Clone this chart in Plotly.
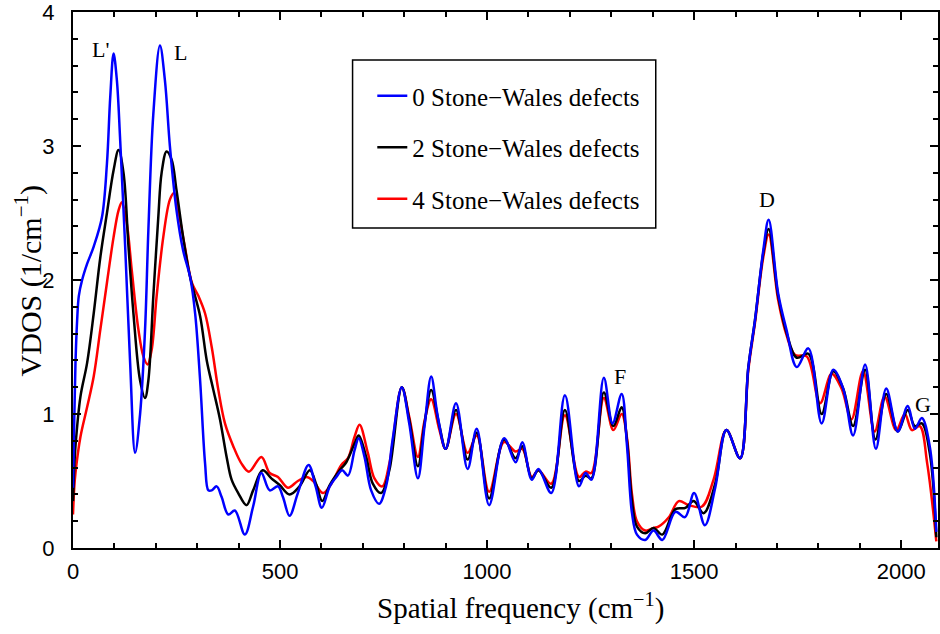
import plotly.graph_objects as go

# ---- data ----
blue_x = [0, 3, 6, 10, 14, 22, 34, 50, 70, 82,
          90, 98, 106, 114, 126, 138, 150, 162, 174, 182,
          194, 210, 222, 234, 250, 266, 283, 295, 307, 319,
          327, 335, 347, 359, 375, 391, 415, 435, 455, 475,
          495, 507, 523, 543, 569, 586, 601, 620, 636, 650,
          664, 680, 690, 704, 720, 739, 756, 772, 794, 812,
          833, 849, 865, 881, 900, 925, 953, 975, 1005, 1041,
          1069, 1085, 1108, 1124, 1155, 1188, 1222, 1238, 1252, 1282,
          1303, 1325, 1338, 1350, 1362, 1382, 1402, 1423, 1455, 1478,
          1500, 1526, 1551, 1578, 1611, 1631, 1647, 1667, 1680, 1703,
          1723, 1748, 1776, 1808, 1836, 1860, 1884, 1913, 1939, 1964,
          1992, 2016, 2033, 2050, 2069, 2085]
blue_y = [0.45, 0.95, 1.38, 1.7, 1.88, 2.0, 2.12, 2.25, 2.47, 2.87,
          3.37, 3.69, 3.49, 3.04, 2.25, 1.38, 0.71, 1.0, 1.63, 2.37,
          3.24, 3.75, 3.49, 3.0, 2.52, 2.22, 2.02, 1.75, 1.25, 0.63,
          0.43, 0.43, 0.46, 0.38, 0.25, 0.28, 0.10, 0.31, 0.56, 0.43,
          0.46, 0.38, 0.24, 0.41, 0.62, 0.46, 0.30, 0.46, 0.53, 0.58,
          0.54, 0.73, 0.82, 0.68, 0.43, 0.33, 0.46, 0.81, 1.20, 0.93,
          0.52, 0.91, 1.28, 0.98, 0.74, 1.08, 0.59, 0.89, 0.32, 0.82,
          0.64, 0.79, 0.51, 0.59, 0.41, 1.14, 0.46, 0.56, 0.51, 1.27,
          0.93, 1.15, 0.76, 0.26, 0.10, 0.06, 0.13, 0.06, 0.27, 0.23,
          0.41, 0.17, 0.45, 0.88, 0.67, 1.35, 1.70, 2.22, 2.45, 1.90,
          1.63, 1.35, 1.49, 0.93, 1.33, 1.19, 0.84, 1.37, 0.74, 1.19,
          0.87, 1.06, 0.89, 0.97, 0.76, 0.12]

black_x = [0, 3, 6, 18, 34, 50, 66, 82, 98, 110,
           122, 134, 146, 162, 174, 182, 194, 206, 214, 226,
           238, 250, 266, 283, 307, 323, 339, 355, 371, 383,
           399, 419, 435, 458, 479, 499, 523, 547, 572, 588,
           602, 620, 644, 660, 680, 690, 708, 724, 744, 764,
           794, 812, 833, 849, 865, 885, 900, 925, 953, 975,
           1005, 1041, 1069, 1085, 1108, 1124, 1155, 1188, 1222, 1238,
           1252, 1282, 1305, 1325, 1338, 1350, 1362, 1382, 1402, 1423,
           1455, 1479, 1499, 1523, 1551, 1578, 1611, 1631, 1647, 1667,
           1680, 1703, 1723, 1748, 1776, 1808, 1836, 1860, 1884, 1913,
           1938, 1964, 1992, 2016, 2033, 2050, 2069, 2085]
black_y = [0.35, 0.6, 0.76, 1.13, 1.38, 1.75, 2.17, 2.5, 2.82, 2.97,
           2.8, 2.25, 1.75, 1.25, 1.12, 1.25, 1.88, 2.47, 2.8, 2.96,
           2.9, 2.67, 2.32, 2.02, 1.73, 1.40, 1.18, 0.96, 0.68, 0.51,
           0.41, 0.32, 0.43, 0.58, 0.52, 0.47, 0.40, 0.46, 0.58, 0.47,
           0.35, 0.47, 0.58, 0.64, 0.78, 0.84, 0.68, 0.48, 0.41, 0.58,
           1.20, 0.96, 0.61, 0.93, 1.18, 0.91, 0.74, 1.03, 0.66, 0.86,
           0.37, 0.81, 0.67, 0.76, 0.52, 0.58, 0.45, 1.03, 0.50, 0.54,
           0.52, 1.16, 0.91, 1.05, 0.80, 0.35, 0.16, 0.11, 0.15, 0.10,
           0.29, 0.30, 0.35, 0.26, 0.48, 0.88, 0.67, 1.35, 1.70, 2.20,
           2.38, 1.88, 1.61, 1.42, 1.45, 1.0, 1.32, 1.19, 0.91, 1.33,
           0.81, 1.15, 0.87, 1.03, 0.91, 0.93, 0.71, 0.08]

red_x = [0, 3, 6, 18, 34, 50, 66, 82, 98, 110,
         118, 130, 142, 158, 170, 180, 190, 202, 218, 234,
         244, 254, 270, 287, 303, 319, 335, 351, 367, 387,
         407, 425, 455, 475, 495, 519, 543, 564, 580, 604,
         624, 648, 664, 680, 692, 712, 728, 747, 764, 794,
         812, 833, 849, 865, 885, 900, 925, 953, 975, 1005,
         1041, 1069, 1085, 1108, 1124, 1155, 1188, 1222, 1238, 1252,
         1282, 1305, 1325, 1338, 1350, 1362, 1382, 1402, 1414, 1439,
         1463, 1487, 1519, 1547, 1578, 1611, 1631, 1647, 1667, 1680,
         1703, 1723, 1744, 1772, 1804, 1832, 1856, 1880, 1908, 1936,
         1960, 1988, 2009, 2026, 2045, 2063, 2085]
red_y = [0.25, 0.45, 0.56, 0.83, 1.05, 1.28, 1.63, 1.98, 2.32, 2.52,
         2.58, 2.42, 2.07, 1.63, 1.43, 1.37, 1.48, 1.88, 2.32, 2.6,
         2.65, 2.52, 2.25, 1.98, 1.88, 1.75, 1.50, 1.18, 0.93, 0.76,
         0.63, 0.57, 0.68, 0.56, 0.53, 0.45, 0.50, 0.53, 0.50, 0.41,
         0.48, 0.62, 0.67, 0.83, 0.92, 0.71, 0.52, 0.46, 0.63, 1.20,
         0.98, 0.68, 0.95, 1.11, 0.88, 0.74, 1.0, 0.71, 0.84, 0.42,
         0.79, 0.72, 0.74, 0.53, 0.58, 0.48, 0.99, 0.53, 0.57, 0.56,
         1.12, 0.88, 1.0, 0.82, 0.40, 0.20, 0.13, 0.15, 0.16, 0.23,
         0.35, 0.32, 0.31, 0.51, 0.88, 0.67, 1.33, 1.68, 2.17, 2.34,
         1.85, 1.59, 1.44, 1.43, 1.08, 1.30, 1.19, 0.96, 1.32, 0.87,
         1.13, 0.88, 1.0, 0.88, 0.91, 0.63, 0.05]

series_names = ["0 Stone\u2212Wales defects", "2 Stone\u2212Wales defects", "4 Stone\u2212Wales defects"]
peak_labels = ["L'", "L", "F", "D", "G"]
peak_x = [66, 259, 1320, 1675, 2053]
peak_y = [3.72, 3.70, 1.28, 2.60, 1.07]
x_ticks = [0, 500, 1000, 1500, 2000]
y_ticks = [0, 1, 2, 3, 4]
x_title = "Spatial frequency (cm<sup>\u22121</sup>)"
y_title = "VDOS (1/cm<sup>\u22121</sup>)"

SERIF = "Liberation Serif, Times New Roman, serif"
SANS = "Liberation Sans, Arial, sans-serif"

fig = go.Figure()
# draw red, black, then blue (blue on top)
for x, y, name, color, rank in [
    (red_x, red_y, series_names[2], "#ff0000", 3),
    (black_x, black_y, series_names[1], "#000000", 2),
    (blue_x, blue_y, series_names[0], "#0000ff", 1),
]:
    fig.add_trace(go.Scatter(
        x=x, y=y, mode="lines", name=name,
        line=dict(color=color, width=2.5, shape="spline", smoothing=1.0),
        legendgroup=name, legendrank=rank,
    ))

for t, xv, yv in zip(peak_labels, peak_x, peak_y):
    fig.add_annotation(x=xv, y=yv, text=t, showarrow=False,
                       font=dict(family=SERIF, size=22, color="black"))

# axis titles (as annotations for exact placement)
fig.add_annotation(xref="paper", yref="paper", x=0.517, y=-0.110,
                   xanchor="center", yanchor="middle", text=x_title, showarrow=False,
                   font=dict(family=SERIF, size=29, color="black"))
fig.add_annotation(xref="paper", yref="paper", x=-0.0515, y=0.5,
                   xanchor="center", yanchor="middle", text=y_title, showarrow=False,
                   textangle=-90, font=dict(family=SERIF, size=30, color="black"))

# legend frame
fig.add_shape(type="rect", xref="paper", yref="paper",
              x0=0.3232, x1=0.6737, y0=0.597, y1=0.9104,
              line=dict(color="black", width=1.5), fillcolor="rgba(0,0,0,0)")

axis_common = dict(
    showline=True, linecolor="black", linewidth=2, mirror="ticks",
    ticks="inside", ticklen=8, tickwidth=2, tickcolor="black",
    showgrid=False, zeroline=False, ticklabeloverflow="allow",
    tickfont=dict(family=SANS, size=22, color="black"),
)

fig.update_xaxes(range=[0, 2089], tickvals=x_ticks,
                 minor=dict(dtick=100, ticks="inside", ticklen=5, tickwidth=1.5, tickcolor="black"),
                 ticklabelstandoff=3,
                 **axis_common)
fig.update_yaxes(range=[0, 4.0005], tickvals=y_ticks,
                 minor=dict(dtick=0.2, ticks="inside", ticklen=5, tickwidth=1.5, tickcolor="black"),
                 ticklabelstandoff=12,
                 **axis_common)

fig.update_layout(
    width=940, height=634,
    margin=dict(l=73, r=0, t=12, b=86),
    paper_bgcolor="white", plot_bgcolor="white",
    showlegend=True,
    legend=dict(x=0.346, y=0.886, xanchor="left", yanchor="top",
                bgcolor="rgba(0,0,0,0)", borderwidth=0,
                font=dict(family=SERIF, size=25, color="black"),
                traceorder="grouped", tracegroupgap=16),
)

fig.write_html("out.html")
